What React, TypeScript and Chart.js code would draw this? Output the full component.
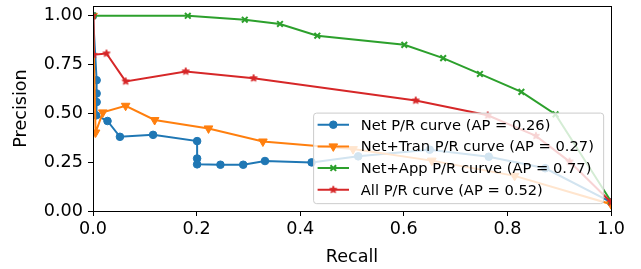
import React, { useEffect, useRef } from 'react';
import { Chart, registerables } from 'chart.js';
import { drawPoint } from 'chart.js/helpers';

Chart.register(...registerables);

// ---------- data ----------
const netRecall = [0.0, 0.007, 0.007, 0.007, 0.006, 0.028, 0.052, 0.116, 0.201, 0.201, 0.201, 0.246, 0.29, 0.332, 0.422, 0.512, 0.65, 0.764, 0.873, 1.0];
const netPrecision = [1.0, 0.67, 0.602, 0.558, 0.49, 0.461, 0.38, 0.39, 0.358, 0.269, 0.239, 0.237, 0.237, 0.256, 0.249, 0.28, 0.314, 0.278, 0.219, 0.045];

const tranRecall = [0.0, 0.005, 0.019, 0.063, 0.119, 0.223, 0.328, 0.502, 0.654, 0.814, 1.0];
const tranPrecision = [1.0, 0.402, 0.505, 0.539, 0.466, 0.423, 0.356, 0.317, 0.258, 0.18, 0.035];

const appRecall = [0.0, 0.183, 0.293, 0.361, 0.433, 0.601, 0.676, 0.747, 0.827, 0.893, 1.0];
const appPrecision = [1.0, 1.0, 0.98, 0.958, 0.898, 0.851, 0.783, 0.702, 0.61, 0.495, 0.05];

const allRecall = [0.0, 0.001, 0.026, 0.063, 0.179, 0.31, 0.623, 0.762, 0.855, 0.92, 1.0];
const allPrecision = [1.0, 0.8, 0.807, 0.664, 0.715, 0.68, 0.566, 0.49, 0.385, 0.253, 0.045];

const seriesLabels = [
  'Net P/R curve (AP = 0.26)',
  'Net+Tran P/R curve (AP = 0.27)',
  'Net+App P/R curve (AP = 0.77)',
  'All P/R curve (AP = 0.52)',
];
const seriesColors = ['#1f77b4', '#ff7f0e', '#2ca02c', '#d62728'];

const xTicks = [0, 0.2, 0.4, 0.6, 0.8, 1.0];
const yTicks = [0, 0.25, 0.5, 0.75, 1.0];
const xTitle = 'Recall';
const yTitle = 'Precision';

// ---------- styling ----------
const FONT = "'DejaVu Sans', sans-serif";
const AXIS_FS = 17.6;
const LEGEND_FS = 14.7;

function makeStar(color: string, outer: number, inner: number) {
  const size = Math.ceil(outer * 2 + 2);
  const c = document.createElement('canvas');
  c.width = size;
  c.height = size;
  const ctx = c.getContext('2d')!;
  ctx.beginPath();
  for (let i = 0; i < 10; i++) {
    const r = i % 2 ? inner : outer;
    const a = -Math.PI / 2 + (i * Math.PI) / 5;
    ctx.lineTo(size / 2 + r * Math.cos(a), size / 2 + r * Math.sin(a));
  }
  ctx.closePath();
  ctx.fillStyle = color;
  ctx.fill();
  ctx.strokeStyle = color;
  ctx.lineWidth = 1;
  ctx.stroke();
  return c;
}

const zip = (xs: number[], ys: number[]) => xs.map((x, i) => ({ x, y: ys[i] }));

const frameLegendPlugin = {
  id: 'frameLegend',
  afterDraw(chart: any) {
    const { ctx, chartArea: a } = chart;
    ctx.save();
    // spines
    ctx.strokeStyle = '#000';
    ctx.lineWidth = 1;
    ctx.strokeRect(Math.round(a.left) + 0.5, Math.round(a.top) + 0.5, Math.round(a.right) - Math.round(a.left), Math.round(a.bottom) - Math.round(a.top));

    // legend
    const fs = LEGEND_FS;
    ctx.font = `${fs}px ${FONT}`;
    const ds = chart.data.datasets;
    const maxW = Math.max(...ds.map((d: any) => ctx.measureText(d.label).width));
    const pad = 0.4 * fs;
    const hl = 2 * fs;
    const htp = 0.8 * fs;
    const axPad = 0.5 * fs;
    const rowH = 1.474 * fs;
    const boxW = pad * 2 + 4 + hl + htp + maxW;
    const boxH = 6.16 * fs;
    const right = a.right - axPad;
    const bottom = a.bottom - axPad;
    const left = right - boxW;
    const top = bottom - boxH;
    ctx.beginPath();
    if ((ctx as any).roundRect) (ctx as any).roundRect(left, top, boxW, boxH, 3);
    else ctx.rect(left, top, boxW, boxH);
    ctx.fillStyle = 'rgba(255,255,255,0.8)';
    ctx.fill();
    ctx.strokeStyle = '#cccccc';
    ctx.lineWidth = 1;
    ctx.stroke();

    ds.forEach((d: any, i: number) => {
      const cy = top + 0.79 * fs + i * rowH;
      const x0 = left + 4;
      const x1 = x0 + hl + 2;
      ctx.strokeStyle = d.borderColor;
      ctx.lineWidth = d.borderWidth;
      ctx.beginPath();
      ctx.moveTo(x0, cy);
      ctx.lineTo(x1, cy);
      ctx.stroke();
      ctx.fillStyle = d.pointBackgroundColor;
      ctx.strokeStyle = d.pointBorderColor;
      ctx.lineWidth = d.pointBorderWidth;
      drawPoint(ctx, { pointStyle: d.pointStyle, rotation: d.pointRotation || 0, radius: d.pointRadius, borderWidth: d.pointBorderWidth }, (x0 + x1) / 2, cy);
      ctx.fillStyle = '#000';
      ctx.textAlign = 'left';
      ctx.textBaseline = 'middle';
      ctx.font = `${fs}px ${FONT}`;
      ctx.fillText(d.label, x1 + htp, cy + 1);
    });
    ctx.restore();
  },
};

export default function App() {
  const ref = useRef<HTMLCanvasElement>(null);

  useEffect(() => {
    if (!ref.current) return;
    Chart.defaults.font.family = FONT;
    const star = makeStar(seriesColors[3], 3.8, 1.7);
    const base = (i: number) => ({
      label: seriesLabels[i],
      borderColor: seriesColors[i],
      backgroundColor: seriesColors[i],
      pointBackgroundColor: seriesColors[i],
      pointBorderColor: seriesColors[i],
      borderWidth: 2,
      fill: false,
      tension: 0,
      clip: 0,
      order: 4 - i,
    });
    const chart = new Chart(ref.current, {
      type: 'line',
      data: {
        datasets: [
          { ...base(0), data: zip(netRecall, netPrecision), pointStyle: 'circle', pointRadius: 3.8, pointBorderWidth: 1 },
          { ...base(1), data: zip(tranRecall, tranPrecision), pointStyle: 'triangle', pointRotation: 180, pointRadius: 5, pointBorderWidth: 1 },
          { ...base(2), data: zip(appRecall, appPrecision), pointStyle: 'crossRot', pointRadius: 4, pointBorderWidth: 2 },
          { ...base(3), data: zip(allRecall, allPrecision), pointStyle: star as any, pointRadius: 4, pointBorderWidth: 1 },
        ] as any,
      },
      options: {
        animation: false,
        responsive: true,
        maintainAspectRatio: false,
        layout: { padding: { left: 0, right: 30, top: 4.5, bottom: 0 } },
        plugins: { legend: { display: false }, tooltip: { enabled: false } },
        elements: { point: { hoverRadius: 4 } },
        scales: {
          x: {
            type: 'linear',
            min: 0,
            max: 1,
            afterBuildTicks: (s: any) => { s.ticks = xTicks.map((v) => ({ value: v })); },
            afterFit: (s: any) => { s.height = 58; s.paddingLeft = 0; s.paddingRight = 0; },
            ticks: {
              color: '#000',
              font: { size: AXIS_FS, family: FONT },
              padding: 3,
              maxRotation: 0,
              callback: (v: any) => Number(v).toFixed(1),
            },
            grid: { display: true, drawOnChartArea: false, drawTicks: true, tickLength: 5, color: '#000', tickWidth: 1 },
            border: { display: true, color: '#000', width: 1 },
            title: { display: true, text: xTitle, color: '#000', font: { size: AXIS_FS, family: FONT }, padding: { top: 0, bottom: 1.5 } },
          },
          y: {
            type: 'linear',
            min: 0,
            max: 1.05,
            afterBuildTicks: (s: any) => { s.ticks = yTicks.map((v) => ({ value: v })); },
            afterFit: (s: any) => { s.width = 93; s.paddingTop = 0; s.paddingBottom = 0; },
            ticks: {
              color: '#000',
              font: { size: AXIS_FS, family: FONT },
              padding: 5,
              callback: (v: any) => Number(v).toFixed(2),
            },
            grid: { display: true, drawOnChartArea: false, drawTicks: true, tickLength: 5, color: '#000', tickWidth: 1 },
            border: { display: true, color: '#000', width: 1 },
            title: { display: true, text: yTitle, color: '#000', font: { size: AXIS_FS, family: FONT }, padding: { top: 11, bottom: 0 } },
          },
        },
      } as any,
      plugins: [frameLegendPlugin],
    });
    return () => chart.destroy();
  }, []);

  return (
    <div style={{ position: 'fixed', left: 0, top: 0, width: 641, height: 269, background: '#fff' }}>
      <canvas ref={ref} />
    </div>
  );
}
